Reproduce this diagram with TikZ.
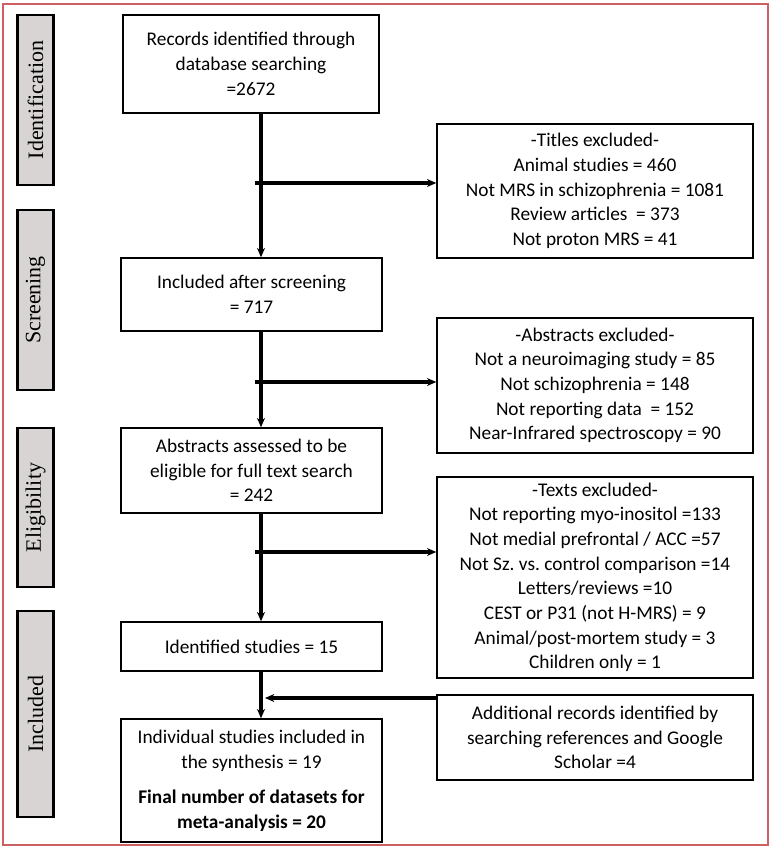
\documentclass[tikz,border=0pt]{standalone}
\usepackage{fontspec}
\setmainfont{Carlito}
\newfontfamily\sidefont{Liberation Serif}
\usetikzlibrary{arrows.meta}

\definecolor{framered}{RGB}{206,96,100}
\definecolor{sidegray}{RGB}{216,212,212}
\newcommand{\px}{0.75pt}

\begin{document}
\begin{tikzpicture}[x=0.75pt,y=-0.75pt,
    box/.style={draw, line width=1.1pt, align=center, inner sep=2pt,
        font=\fontsize{14.5}{18.5}\selectfont},
    sidebox/.style={draw, fill=sidegray, line width=1.6pt, rotate=90,
        inner sep=0pt, font=\sidefont\fontsize{16.5}{19}\selectfont},
    flow/.style={line width=2.8pt, -{Stealth[length=7pt,width=6pt]}},
    stub/.style={line width=2.8pt}]

    \useasboundingbox (0,0) rectangle (772,850);
    \draw[framered, line width=0.9pt] (3,4) rectangle (768,845);

    % phase labels
    \node[sidebox, minimum width=170*\px, minimum height=36*\px] (lblid) at (35.5,100) {Identification};
    \node[sidebox, minimum width=180*\px, minimum height=36*\px] (lblscr) at (35.5,300) {Screening};
    \node[sidebox, minimum width=159*\px, minimum height=36*\px] (lblelig) at (35.5,507.5) {Eligibility};
    \node[sidebox, minimum width=206*\px, minimum height=36*\px] (lblincl) at (35.5,714) {Included};

    % main column
    \node[box, minimum width=256*\px, minimum height=98*\px] (rec) at (251,64)
        {Records identified through\\database searching\\=2672};
    \node[box, minimum width=261*\px, minimum height=73*\px] (scr) at (251.5,294.5)
        {Included after screening\\= 717};
    \node[box, minimum width=261*\px, minimum height=85*\px] (elig) at (251.5,470.5)
        {Abstracts assessed to be\\eligible for full text search\\= 242};
    \node[box, minimum width=261*\px, minimum height=49*\px] (ident) at (251.5,646.5)
        {Identified studies = 15};
    \node[box, minimum width=261*\px, minimum height=123*\px, font=\fontsize{14.5}{19}\selectfont] (incl) at (251.5,780.5)
        {Individual studies included in\\the synthesis = 19\\[7pt]
         \textbf{Final number of datasets for}\\\textbf{meta-analysis = 20}};

    % right column
    \node[box, minimum width=316*\px, minimum height=134*\px] (tit) at (595,191)
        {-Titles excluded-\\Animal studies = 460\\Not MRS in schizophrenia = 1081\\
         Review articles \ = 373\\Not proton MRS = 41};
    \node[box, minimum width=316*\px, minimum height=135*\px] (abs) at (595,385.5)
        {-Abstracts excluded-\\Not a neuroimaging study = 85\\Not schizophrenia = 148\\
         Not reporting data \ = 152\\Near-Infrared spectroscopy = 90};
    \node[box, minimum width=316*\px, minimum height=201*\px] (txt) at (595,577.5)
        {-Texts excluded-\\Not reporting myo-inositol =133\\Not medial prefrontal / ACC =57\\
         Not Sz.\ vs.\ control comparison =14\\Letters/reviews =10\\
         CEST or P31 (not H-MRS) = 9\\Animal/post-mortem study = 3\\Children only = 1};
    \node[box, minimum width=316*\px, minimum height=85*\px] (add) at (595,737.5)
        {Additional records identified by\\searching references and Google\\Scholar =4};

    % spine and branches
    \coordinate (spine) at (261,0);
    \draw[flow] (rec.south -| spine) -- (scr.north -| spine);
    \draw[flow] (scr.south -| spine) -- (elig.north -| spine);
    \draw[flow] (elig.south -| spine) -- (ident.north -| spine);
    \draw[flow] (ident.south -| spine) -- (incl.north -| spine);

    \coordinate (br1) at (255,183);
    \coordinate (br2) at (255,382);
    \coordinate (br3) at (255,552);
    \coordinate (br4) at (437,698);
    \draw[flow] (br1) -- (br1 -| tit.west);
    \draw[flow] (br2) -- (br2 -| abs.west);
    \draw[flow] (br3) -- (br3 -| txt.west);
    \draw[flow, shorten >=3pt] (br4) -- (br4 -| spine);
\end{tikzpicture}
\end{document}
